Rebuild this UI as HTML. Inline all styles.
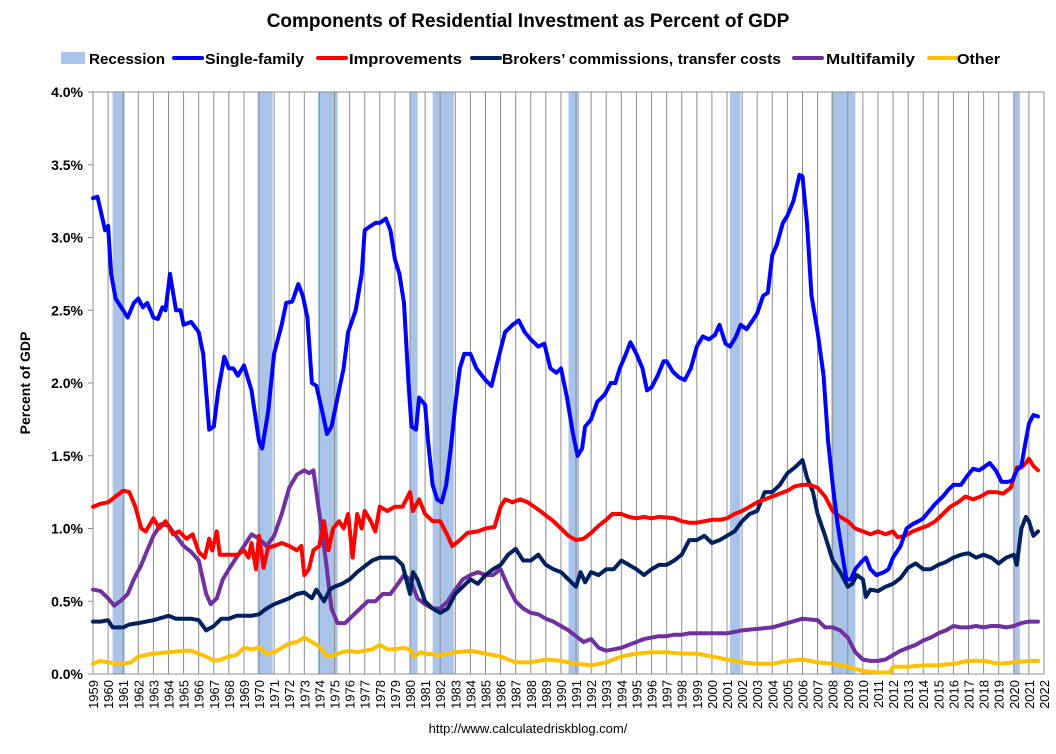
<!DOCTYPE html>
<html><head><meta charset="utf-8"><style>
body{margin:0;background:#fff;font-family:"Liberation Sans",sans-serif;}
</style></head><body>
<svg width="1056" height="749" xmlns="http://www.w3.org/2000/svg" font-family="Liberation Sans, sans-serif">
<text x="528" y="27" text-anchor="middle" font-size="19" font-weight="bold">Components of Residential Investment as Percent of GDP</text>
<g id="legend" font-size="15" font-weight="bold"></g>
<g id="bands"></g><g id="grid"></g><g id="lines"></g><g id="axes"></g>
<text transform="translate(30,383) rotate(-90)" text-anchor="middle" font-size="14" font-weight="bold">Percent of GDP</text>
<text x="528" y="733" text-anchor="middle" font-size="13">http://www.calculatedriskblog.com/</text>
</svg>
<script>
const years=[];for(let y=1959;y<=2022;y++)years.push(y);
const yTicks=[0,0.5,1,1.5,2,2.5,3,3.5,4];
const recessions=[[1960.3,1961.1],[1969.9,1970.9],[1973.9,1975.2],[1980.0,1980.5],[1981.5,1982.9],[1990.5,1991.2],[2001.2,2001.9],[2007.9,2009.5],[2020.0,2020.4]];
const singleFamily=[[1959,3.27],[1959.3,3.28],[1959.8,3.05],[1960,3.08],[1960.2,2.75],[1960.5,2.58],[1961,2.5],[1961.3,2.45],[1961.7,2.55],[1962,2.58],[1962.3,2.52],[1962.6,2.55],[1963,2.45],[1963.3,2.44],[1963.6,2.52],[1963.8,2.5],[1964.1,2.75],[1964.5,2.5],[1964.8,2.5],[1965,2.4],[1965.5,2.42],[1966,2.35],[1966.3,2.2],[1966.7,1.68],[1967,1.7],[1967.3,1.95],[1967.7,2.18],[1968,2.1],[1968.3,2.1],[1968.6,2.05],[1969,2.12],[1969.5,1.95],[1970,1.6],[1970.2,1.55],[1970.6,1.8],[1971,2.2],[1971.5,2.4],[1971.8,2.55],[1972.2,2.56],[1972.6,2.68],[1972.9,2.6],[1973.2,2.45],[1973.5,2.0],[1973.8,1.98],[1974.2,1.8],[1974.5,1.65],[1974.8,1.7],[1975.2,1.9],[1975.6,2.1],[1975.9,2.35],[1976.4,2.5],[1976.8,2.75],[1977,3.05],[1977.4,3.08],[1977.7,3.1],[1978,3.1],[1978.4,3.13],[1978.7,3.05],[1979,2.85],[1979.3,2.75],[1979.6,2.55],[1979.9,2.0],[1980.1,1.7],[1980.4,1.68],[1980.6,1.9],[1981,1.85],[1981.2,1.6],[1981.5,1.3],[1981.8,1.2],[1982.1,1.18],[1982.4,1.3],[1982.7,1.55],[1983,1.85],[1983.3,2.1],[1983.6,2.2],[1984,2.2],[1984.4,2.1],[1985,2.02],[1985.4,1.98],[1985.8,2.15],[1986.3,2.35],[1986.8,2.4],[1987.2,2.43],[1987.6,2.35],[1988,2.3],[1988.5,2.25],[1988.9,2.27],[1989.3,2.1],[1989.7,2.07],[1990,2.1],[1990.4,1.9],[1990.8,1.65],[1991.1,1.5],[1991.4,1.55],[1991.6,1.7],[1992,1.75],[1992.4,1.87],[1992.9,1.92],[1993.3,2.0],[1993.6,2.0],[1993.9,2.1],[1994.3,2.2],[1994.6,2.28],[1995,2.2],[1995.4,2.1],[1995.7,1.95],[1996,1.97],[1996.4,2.05],[1996.8,2.15],[1997,2.15],[1997.4,2.08],[1997.8,2.04],[1998.2,2.02],[1998.6,2.1],[1999,2.25],[1999.4,2.32],[1999.8,2.3],[2000.2,2.33],[2000.5,2.4],[2000.9,2.27],[2001.2,2.25],[2001.6,2.32],[2001.9,2.4],[2002.3,2.37],[2002.7,2.43],[2003,2.48],[2003.4,2.6],[2003.7,2.62],[2004,2.88],[2004.3,2.95],[2004.7,3.1],[2005,3.15],[2005.4,3.25],[2005.8,3.43],[2006,3.42],[2006.3,3.1],[2006.6,2.6],[2007,2.35],[2007.4,2.05],[2007.7,1.6],[2008,1.3],[2008.3,1.05],[2008.6,0.85],[2008.9,0.65],[2009.2,0.65],[2009.5,0.72],[2009.9,0.77],[2010.2,0.8],[2010.5,0.72],[2010.9,0.68],[2011.4,0.7],[2011.7,0.72],[2012,0.8],[2012.5,0.88],[2012.9,1.0],[2013.3,1.03],[2013.7,1.05],[2014,1.07],[2014.4,1.12],[2014.8,1.17],[2015.3,1.22],[2015.7,1.27],[2016,1.3],[2016.5,1.3],[2016.9,1.36],[2017.3,1.41],[2017.7,1.4],[2018,1.42],[2018.4,1.45],[2018.8,1.4],[2019.2,1.32],[2019.6,1.32],[2019.9,1.33],[2020.2,1.4],[2020.5,1.43],[2020.7,1.55],[2021,1.72],[2021.3,1.78],[2021.6,1.77]];
const improvements=[[1959,1.15],[1959.5,1.17],[1960,1.18],[1960.5,1.22],[1961,1.26],[1961.4,1.25],[1961.8,1.15],[1962.2,1.0],[1962.5,0.98],[1963,1.07],[1963.4,1.0],[1963.8,1.05],[1964.3,0.96],[1964.7,0.98],[1965.2,0.93],[1965.6,0.96],[1966,0.84],[1966.4,0.8],[1966.7,0.93],[1966.9,0.85],[1967.2,0.98],[1967.4,0.82],[1968,0.82],[1968.6,0.82],[1969,0.85],[1969.3,0.8],[1969.5,0.9],[1969.8,0.72],[1970,0.95],[1970.3,0.73],[1970.6,0.87],[1971,0.88],[1971.5,0.9],[1972,0.88],[1972.5,0.85],[1972.8,0.88],[1973,0.68],[1973.3,0.72],[1973.6,0.85],[1974,0.88],[1974.3,1.05],[1974.6,0.85],[1974.9,1.0],[1975.3,1.05],[1975.6,1.0],[1975.9,1.1],[1976.2,0.8],[1976.5,1.1],[1976.8,1.0],[1977,1.12],[1977.4,1.05],[1977.7,0.98],[1978,1.15],[1978.5,1.12],[1979,1.15],[1979.5,1.15],[1980,1.25],[1980.2,1.12],[1980.6,1.2],[1981,1.1],[1981.5,1.05],[1982,1.05],[1982.5,0.95],[1982.8,0.88],[1983.3,0.92],[1983.8,0.97],[1984.5,0.98],[1985,1.0],[1985.6,1.01],[1986,1.15],[1986.3,1.2],[1986.8,1.18],[1987.3,1.2],[1987.8,1.18],[1988.5,1.13],[1989.5,1.05],[1990,1.0],[1990.5,0.95],[1991,0.92],[1991.5,0.93],[1992,0.97],[1992.5,1.02],[1993,1.06],[1993.4,1.1],[1994,1.1],[1994.5,1.08],[1995,1.07],[1995.5,1.08],[1996,1.07],[1996.5,1.08],[1997.5,1.07],[1998,1.05],[1998.5,1.04],[1999,1.04],[1999.5,1.05],[2000,1.06],[2000.5,1.06],[2001,1.07],[2001.5,1.1],[2002,1.12],[2002.5,1.15],[2003,1.18],[2003.5,1.2],[2004,1.22],[2004.5,1.24],[2005,1.26],[2005.5,1.29],[2006,1.3],[2006.5,1.3],[2007,1.28],[2007.5,1.22],[2008,1.12],[2008.5,1.08],[2009,1.05],[2009.5,1.0],[2010,0.98],[2010.5,0.96],[2011,0.98],[2011.5,0.96],[2012,0.98],[2012.3,0.94],[2012.8,0.95],[2013.3,0.98],[2013.8,1.0],[2014.3,1.02],[2014.8,1.05],[2015.3,1.1],[2015.8,1.15],[2016.3,1.18],[2016.8,1.22],[2017.3,1.2],[2017.8,1.22],[2018.3,1.25],[2018.8,1.25],[2019.3,1.24],[2019.8,1.28],[2020.2,1.42],[2020.5,1.42],[2020.8,1.45],[2021,1.48],[2021.3,1.43],[2021.6,1.4]];
const brokers=[[1959,0.36],[1959.5,0.36],[1960,0.37],[1960.3,0.32],[1961,0.32],[1961.4,0.34],[1962,0.35],[1963,0.37],[1964,0.4],[1964.5,0.38],[1965,0.38],[1965.5,0.38],[1966,0.37],[1966.5,0.3],[1967,0.33],[1967.5,0.38],[1968,0.38],[1968.5,0.4],[1969,0.4],[1969.5,0.4],[1970,0.41],[1970.5,0.45],[1971,0.48],[1971.5,0.5],[1972,0.52],[1972.5,0.55],[1973,0.56],[1973.5,0.52],[1973.8,0.58],[1974.3,0.5],[1974.7,0.58],[1975,0.6],[1975.5,0.62],[1976,0.65],[1976.5,0.7],[1977,0.74],[1977.5,0.78],[1978,0.8],[1978.5,0.8],[1979,0.8],[1979.5,0.75],[1980,0.55],[1980.2,0.7],[1980.5,0.65],[1981,0.5],[1981.5,0.45],[1982,0.42],[1982.5,0.45],[1983,0.55],[1983.5,0.6],[1984,0.65],[1984.5,0.62],[1985,0.68],[1985.5,0.72],[1986,0.75],[1986.5,0.82],[1987,0.86],[1987.5,0.78],[1988,0.78],[1988.5,0.82],[1989,0.75],[1989.5,0.72],[1990,0.7],[1990.5,0.65],[1991,0.6],[1991.3,0.7],[1991.6,0.63],[1992,0.7],[1992.5,0.68],[1993,0.72],[1993.5,0.72],[1994,0.78],[1994.5,0.75],[1995,0.72],[1995.5,0.68],[1996,0.72],[1996.5,0.75],[1997,0.75],[1997.5,0.78],[1998,0.82],[1998.5,0.92],[1999,0.92],[1999.5,0.95],[2000,0.9],[2000.5,0.92],[2001,0.95],[2001.5,0.98],[2002,1.05],[2002.5,1.1],[2003,1.12],[2003.5,1.25],[2004,1.25],[2004.5,1.3],[2005,1.38],[2005.5,1.42],[2006,1.47],[2006.3,1.35],[2006.7,1.25],[2007,1.1],[2007.5,0.95],[2008,0.78],[2008.5,0.7],[2009,0.6],[2009.3,0.62],[2009.6,0.68],[2010,0.65],[2010.2,0.53],[2010.5,0.58],[2011,0.57],[2011.5,0.6],[2012,0.62],[2012.5,0.66],[2013,0.73],[2013.5,0.76],[2014,0.72],[2014.5,0.72],[2015,0.75],[2015.5,0.77],[2016,0.8],[2016.5,0.82],[2017,0.83],[2017.5,0.8],[2018,0.82],[2018.5,0.8],[2019,0.76],[2019.5,0.8],[2020,0.82],[2020.2,0.75],[2020.5,1.0],[2020.8,1.08],[2021,1.05],[2021.3,0.95],[2021.6,0.98]];
const multifamily=[[1959,0.58],[1959.5,0.57],[1960,0.52],[1960.4,0.47],[1960.8,0.5],[1961.3,0.55],[1961.7,0.65],[1962.2,0.75],[1962.6,0.85],[1963,0.95],[1963.5,1.03],[1964,1.02],[1964.5,0.95],[1965,0.88],[1965.5,0.84],[1966,0.78],[1966.5,0.55],[1966.8,0.48],[1967.2,0.52],[1967.6,0.65],[1968,0.72],[1968.5,0.8],[1969,0.88],[1969.5,0.96],[1970,0.93],[1970.5,0.88],[1971,0.95],[1971.5,1.1],[1972,1.28],[1972.5,1.37],[1973,1.4],[1973.3,1.38],[1973.6,1.4],[1974,1.1],[1974.4,0.8],[1974.8,0.45],[1975.2,0.35],[1975.7,0.35],[1976.2,0.4],[1976.7,0.45],[1977.2,0.5],[1977.7,0.5],[1978.2,0.55],[1978.7,0.55],[1979.2,0.62],[1979.6,0.68],[1980,0.65],[1980.5,0.52],[1981,0.48],[1981.5,0.45],[1982,0.45],[1982.5,0.5],[1983,0.58],[1983.5,0.65],[1984,0.68],[1984.5,0.7],[1985,0.68],[1985.5,0.68],[1986,0.72],[1986.5,0.6],[1987,0.5],[1987.5,0.45],[1988,0.42],[1988.5,0.41],[1989,0.38],[1989.5,0.36],[1990,0.33],[1990.5,0.3],[1991,0.26],[1991.5,0.22],[1992,0.24],[1992.5,0.18],[1993,0.16],[1993.5,0.17],[1994,0.18],[1994.5,0.2],[1995,0.22],[1995.5,0.24],[1996,0.25],[1996.5,0.26],[1997,0.26],[1997.5,0.27],[1998,0.27],[1998.5,0.28],[1999,0.28],[2000,0.28],[2001,0.28],[2002,0.3],[2003,0.31],[2004,0.32],[2005,0.35],[2006,0.38],[2007,0.37],[2007.5,0.32],[2008,0.32],[2008.5,0.3],[2009,0.25],[2009.5,0.15],[2010,0.1],[2010.5,0.09],[2011,0.09],[2011.5,0.1],[2012,0.13],[2012.5,0.16],[2013,0.18],[2013.5,0.2],[2014,0.23],[2014.5,0.25],[2015,0.28],[2015.5,0.3],[2016,0.33],[2016.5,0.32],[2017,0.32],[2017.5,0.33],[2018,0.32],[2018.5,0.33],[2019,0.33],[2019.5,0.32],[2020,0.33],[2020.5,0.35],[2021,0.36],[2021.6,0.36]];
const other=[[1959,0.07],[1959.5,0.09],[1960,0.08],[1960.5,0.07],[1961,0.07],[1961.5,0.08],[1962,0.12],[1962.5,0.13],[1963,0.14],[1964,0.15],[1965,0.16],[1965.5,0.16],[1966,0.14],[1966.5,0.12],[1967,0.09],[1967.5,0.1],[1968,0.12],[1968.5,0.13],[1969,0.18],[1969.5,0.17],[1970,0.18],[1970.5,0.14],[1971,0.15],[1971.5,0.18],[1972,0.21],[1972.5,0.22],[1973,0.25],[1973.5,0.22],[1974,0.19],[1974.5,0.12],[1975,0.13],[1975.5,0.15],[1976,0.16],[1976.5,0.15],[1977,0.16],[1977.5,0.17],[1978,0.2],[1978.5,0.17],[1979,0.17],[1979.5,0.18],[1980,0.17],[1980.3,0.12],[1980.7,0.15],[1981,0.14],[1982,0.13],[1983,0.15],[1984,0.16],[1985,0.14],[1986,0.12],[1987,0.08],[1988,0.08],[1989,0.1],[1990,0.09],[1991,0.07],[1992,0.06],[1993,0.08],[1994,0.12],[1995,0.14],[1996,0.15],[1997,0.15],[1998,0.14],[1999,0.14],[2000,0.12],[2001,0.1],[2002,0.08],[2003,0.07],[2004,0.07],[2005,0.09],[2006,0.1],[2007,0.08],[2008,0.07],[2009,0.05],[2010,0.02],[2011,0.01],[2011.8,0.01],[2012,0.05],[2013,0.05],[2014,0.06],[2015,0.06],[2016,0.07],[2017,0.09],[2018,0.09],[2019,0.07],[2020,0.08],[2021,0.09],[2021.6,0.09]];

const NS='http://www.w3.org/2000/svg';
const X0=93,X1=1044,Y0=674,Y1=92;
function xs(y){return X0+(y-1959)/(2022-1959)*(X1-X0);}
function ys(v){return Y0-v/4*(Y0-Y1);}
function mk(tag,attrs,parent){const e=document.createElementNS(NS,tag);for(const k in attrs)e.setAttribute(k,attrs[k]);parent.appendChild(e);return e;}
const bands=document.getElementById('bands'),grid=document.getElementById('grid'),lines=document.getElementById('lines'),axes=document.getElementById('axes'),legend=document.getElementById('legend');
recessions.forEach(r=>{const e=mk('rect',{x:xs(r[0]),y:Y1,width:xs(r[1])-xs(r[0]),height:Y0-Y1,fill:'#a9c4e8'},bands);

});
years.forEach(y=>{const e=mk('line',{x1:xs(y),x2:xs(y),y1:Y1,y2:Y0,stroke:'#8c8c8c','stroke-width':1},grid);


const t=mk('text',{transform:`translate(${xs(y)+5},${Y0+6}) rotate(-90)`,'text-anchor':'end','font-size':13},axes);t.textContent=y;

});
mk('line',{x1:X0-5,x2:X1,y1:Y1,y2:Y1,stroke:'#8c8c8c'},grid);
mk('line',{x1:X0-5,x2:X1,y1:Y0,y2:Y0,stroke:'#8c8c8c'},grid);
yTicks.forEach(v=>{mk('line',{x1:X0-5,x2:X0,y1:ys(v),y2:ys(v),stroke:'#8c8c8c'},axes);
const t=mk('text',{x:X0-10,y:ys(v)+5,'text-anchor':'end','font-size':14,'font-weight':'bold'},axes);t.textContent=v.toFixed(1)+'%';

});
const series=[['multifamily',multifamily,'#7030a0'],['other',other,'#ffc000'],['brokers-commissions',brokers,'#002060'],['improvements',improvements,'#ff0000'],['single-family',singleFamily,'#0000ff']];
series.forEach(s=>{const d=s[1].map((p,i)=>(i?'L':'M')+xs(p[0]).toFixed(1)+','+ys(p[1]).toFixed(1)).join('');
const e=mk('path',{d:d,fill:'none',stroke:s[2],'stroke-width':4,'stroke-linejoin':'round','stroke-linecap':'round'},lines);

});
// [label, color, isBox, markerX, textX, textWidth]
const leg=[['Recession','#a9c4e8',true,61,89,76],['Single-family','#0000ff',false,174,205,99],['Improvements','#ff0000',false,318,349,113],['Brokers\u2019 commissions, transfer costs','#002060',false,472,502,279],['Multifamily','#7030a0',false,794,826,89],['Other','#ffc000',false,929,957,43]];
leg.forEach(l=>{const g=mk('g',{},legend);


if(l[2])mk('rect',{x:l[3],y:52,width:24,height:12,fill:l[1]},g);else mk('line',{x1:l[3],x2:l[3]+28,y1:58,y2:58,stroke:l[1],'stroke-width':4,'stroke-linecap':'round'},g);
const t=mk('text',{x:l[4],y:64,textLength:l[5],lengthAdjust:'spacingAndGlyphs'},g);t.textContent=l[0];});
</script>
</body></html>
